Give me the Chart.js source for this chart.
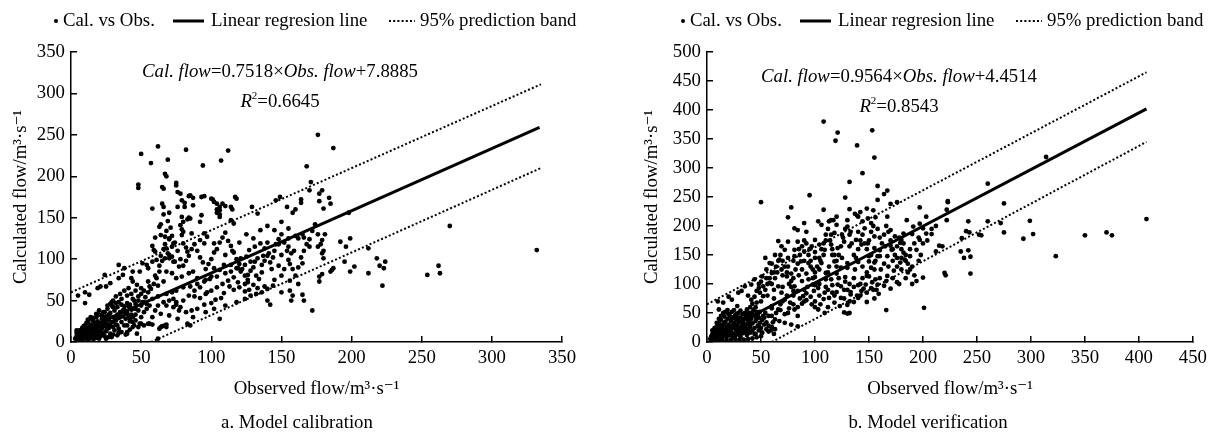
<!DOCTYPE html>
<html>
<head>
<meta charset="utf-8">
<script src="https://cdn.jsdelivr.net/npm/chart.js@4"></script>
<style>
  body { margin: 0; background: #fff; }
  .wrap { display: flex; width: 1218px; height: 436px; }
  canvas { display: block; }
</style>
</head>
<body>
<div class="wrap">
  <canvas id="grafico_a" width="609" height="436"></canvas>
  <canvas id="grafico_b" width="609" height="436"></canvas>
</div>
<script>
// ticks
const calibXTicks = [0, 50, 100, 150, 200, 250, 300, 350]
const calibYTicks = [0, 50, 100, 150, 200, 250, 300, 350]
const verifXTicks = [0, 50, 100, 150, 200, 250, 300, 350, 400, 450]
const verifYTicks = [0, 50, 100, 150, 200, 250, 300, 350, 400, 450, 500]

// a. calibration: [observed, calculated]
const calibPoints = [
  [3,4],[4,7],[4,11],[5,3],[5,9],[6,5],[6,14],[7,8],[7,3],[8,11],[8,6],[8,17],[9,9],[9,4],[10,13],[10,7],[10,20],[11,10],[11,5],[12,15],
  [12,8],[12,24],[13,12],[13,18],[14,6],[14,21],[15,10],[15,14],[15,27],[16,17],[16,8],[17,22],[17,12],[18,30],[18,16],[19,9],[19,25],[20,19],
  [20,13],[20,33],[21,22],[21,7],[22,28],[22,16],[23,11],[23,36],[24,24],[24,19],[25,31],[25,13],[26,40],[26,22],[27,27],[27,17],[28,35],
  [28,10],[29,24],[29,44],[30,30],[30,18],[31,38],[31,14],[32,26],[32,21],[33,33],[33,42],[34,29],[34,16],[35,36],[36,24],[36,45],[37,31],
  [38,20],[38,39],[39,28],[40,35],[40,12],[41,43],[42,25],[43,33],[44,40],[44,18],[45,20],[46,33],[47,10],[39,9],[50,22],[55,22],[58,21],
  [62,4],[63,16],[65,19],[68,21],[85,20],[6,10],[9,15],[11,17],[13,4],[14,14],[16,25],[17,18],[18,11],[19,21],[21,15],[22,10],[23,20],
  [24,29],[26,16],[27,33],[28,20],[30,24],[31,29],[33,20],[35,30],[37,38],[39,34],[41,30],[43,39],[24,7],[27,6],[30,9],[34,11],[18,5],[15,6],
  [4,14],[5,6],[7,13],[9,19],[11,23],[12,27],[14,30],[16,29],[18,34],[20,38],[22,32],[24,36],[26,44],[28,46],[30,42],[32,47],[34,48],
  [36,36],[38,43],[40,47],[42,45],[44,30],[46,26],[48,38],[50,44],[52,48],[36,12],[40,20],[42,15],[8,2],[12,2],[16,3],[20,4],[25,4],[29,6],[33,8],
  [5,56],[10,60],[13,57],[10,47],[19,65],[21,67],[25,67],[28,71],[24,81],[34,77],[34,93],[29,48],[38,89],[37,81],[44,85],[43,77],[44,73],
  [47,69],[50,65],[54,93],[55,73],[56,67],[61,99],[61,77],[63,85],[66,73],[55,89],[51,95],[49,85],[60,109],[58,97],[68,113],[69,107],[67,101],
  [70,101],[73,97],[77,91],[68,85],[72,83],[75,77],[79,79],[84,83],[87,85],[90,77],[96,75],[100,79],[102,89],[106,87],[109,93],[114,93],
  [118,89],[121,101],[125,103],[127,111],[131,115],[135,119],[138,113],[131,97],[136,93],[121,85],[126,81],[70,125],[73,119],[86,131],
  [92,123],[95,119],[102,119],[95,131],[97,127],[80,133],[79,129],[64,129],[63,139],[85,149],[79,151],[80,145],[78,141],[93,153],[92,145],
  [114,147],[116,143],[106,159],[106,154],[106,151],[58,161],[66,163],[66,154],[81,168],[87,165],[102,169],[106,163],[110,164],[114,163],
  [118,173],[84,176],[95,176],[78,179],[75,189],[66,185],[68,200],[48,186],[65,167],[76,163],[81,163],[84,150],[83,148],[79,136],[64,142],
  [60,126],[58,116],[59,111],[67,127],[70,124],[72,115],[70,105],[72,103],[74,97],[80,119],[82,114],[83,109],
  [50,227],[57,216],[62,236],[69,220],[67,203],[65,187],[82,232],[75,192],[76,181],[79,171],[85,177],[93,175],[94,213],[107,219],[112,231],
  [101,172],[117,175],[48,190],[87,174],[100,173],[104,167],[108,167],[104,160],[104,156],
  [42,42],[51,48],[58,52],[68,58],[75,62],[85,67],[95,73],[104,79],[114,85],[124,93],[133,101],[141,107],[46,40],[54,46],[62,55],[72,60],
  [80,66],[90,70],[99,76],[110,83],[119,89],[128,97],[137,104],[148,118],[155,125],[160,128],[165,130],
  [30,50],[32,55],[35,58],[36,52],[38,62],[40,56],[41,65],[43,58],[45,50],[46,62],[48,55],[50,58],[52,62],[53,54],[55,60],[57,64],[59,70],
  [60,80],[62,68],[63,92],[64,104],[65,98],[66,112],[67,118],[68,134],[69,146],[70,156],[71,138],[72,128],[74,120],[76,110],[78,100],
  [80,92],[82,98],[84,104],[86,112],[88,118],[90,110],[92,102],[94,96],[96,88],[98,94],[100,100],[102,108],[104,112],[106,120],[108,126],
  [110,132],[112,122],[114,116],[116,108],[118,100],[120,94],[122,88],[124,80],[126,72],[128,86],[130,90],[132,80],[134,76],[136,84],
  [138,98],[140,104],[142,96],[144,102],[146,118],[148,124],[150,130],[152,120],[154,110],[156,94],[158,88],[160,80],[162,90],[164,102],
  [166,110],[168,118],[170,124],[172,134],[174,142],[176,130],[178,118],[180,110],
  [80,50],[84,56],[88,62],[92,66],[96,58],[100,62],[104,66],[108,70],[112,74],[116,78],[120,66],[124,70],[128,56],[132,58],[136,60],[140,64],
  [144,68],[60,38],[64,34],[70,32],[76,28],[82,36],[90,40],[96,36],[102,40],[110,44],[118,48],[124,52],[58,30],[62,44],[66,48],[70,50],
  [50,30],[52,36],[54,40],[56,44],[46,46],[48,50],[44,52],
  [73,52],[75,48],[78,42],[75,45],[73,42],[77,38],[68,44],[68,18],[67,20],[64,18],[56,22],[52,20],[49,22],[44,24],[48,18],[40,10],[42,28],
  [86,38],[87,30],[83,22],[92,53],[95,45],[100,47],[103,51],[109,59],[107,53],[113,67],[116,63],[124,61],[127,63],[130,69],[133,65],[138,67],
  [140,50],[106,28],[88,55],[97,60],[119,72],[126,75],[145,75],[150,80],[143,88],[148,92],[152,88],
  [176,250],[187,234],[168,212],[171,193],[170,183],[177,179],[184,174],[177,170],[180,161],[164,168],[158,156],[198,156],[155,137],
  [162,125],[166,126],[181,130],[179,123],[192,121],[199,125],[196,115],[176,115],[170,115],[159,110],[157,107],[155,99],[179,107],
  [180,101],[165,95],[212,113],[218,101],[224,97],[220,92],[223,89],[195,97],[202,91],[199,85],[212,83],[187,89],[185,85],[186,87],
  [179,82],[177,79],[177,73],[162,70],[156,74],[156,62],[157,50],[166,50],[172,38],[222,68],[254,81],[262,92],[263,83],[270,140],[332,111],
  [179,183],[185,167],[164,172],[160,160],[154,163],[146,171],[149,175],[129,163],[133,155],[115,160],[140,140],[145,135],[150,145],
  [125,130],[130,125],[135,135],[140,120],[145,110],[150,105],[155,115],[120,120],[115,110],[110,105],[150,60],[158,56],[165,57],[142,45]
]
const calibFit = [[5, 12], [334, 259]]
const calibUpper = [[0, 60], [335, 311]]
const calibLower = [[57, 0], [335, 210]]

// b. verification: [observed, calculated]
const verifPoints = [
  [3,5],[4,10],[5,3],[5,14],[6,7],[6,18],[7,11],[7,4],[8,15],[8,22],[9,8],[9,27],[10,12],[10,18],[11,5],[11,32],[12,21],[12,14],[13,9],
  [13,38],[14,25],[14,17],[15,30],[15,11],[16,44],[16,20],[17,14],[17,35],[18,26],[18,8],[19,40],[19,18],[20,30],[20,48],[21,12],[21,23],
  [22,36],[22,19],[23,28],[23,52],[24,15],[24,42],[25,24],[25,33],[26,10],[26,46],[27,20],[27,38],[28,29],[28,14],[29,50],[29,24],[30,35],
  [30,18],[31,42],[31,9],[32,28],[32,22],[33,48],[33,15],[34,32],[34,40],[35,20],[35,26],[36,44],[37,12],[37,30],[38,36],[38,22],[39,50],
  [40,26],[40,16],[41,40],[42,32],[42,20],[43,46],[44,24],[45,36],[45,14],[46,52],[47,28],[48,20],[48,42],[49,33],[50,24],[51,16],[52,45],
  [53,30],[55,22],[57,18],[60,26],[62,14],[6,12],[8,5],[10,25],[12,30],[14,8],[16,33],[18,13],[20,24],[22,42],[24,9],[26,30],[28,40],
  [30,12],[32,36],[34,24],[36,16],[38,46],[40,32],[42,50],[44,14],[46,40],[48,28],
  [4,6],[5,20],[7,24],[9,33],[11,40],[13,45],[15,50],[17,52],[19,55],[21,46],[23,40],[25,55],[27,48],[29,42],[31,54],[33,35],[35,50],
  [37,56],[39,42],[41,50],[43,55],[45,44],[47,48],[49,52],[51,38],[53,42],[55,34],[57,28],[59,20],[61,34],[63,22],[50,10],[46,8],[42,6],
  [38,5],[34,4],[30,4],[26,5],[22,4],[18,3],[14,3],
  [11,56],[15,68],[23,73],[28,62],[29,85],[35,96],[41,99],[44,108],[48,93],[51,113],[41,73],[46,68],[49,85],[52,79],[10,70],[20,78],[32,88],[38,80],
  [55,125],[60,119],[63,110],[58,102],[69,125],[74,113],[78,105],[81,96],[84,88],[89,79],[66,96],[69,85],[72,73],[77,68],[94,108],[98,99],
  [103,93],[109,85],[113,76],[118,68],[123,62],[90,70],[97,65],[103,56],[109,50],[81,56],[84,45],[75,50],[104,125],[110,119],[115,108],
  [121,99],[127,90],[133,82],[54,50],[57,45],[63,39],[67,36],[72,33],[78,30],[84,27],[60,62],[66,56],[51,16],[132,50],
  [54,145],[63,150],[58,136],[67,142],[75,145],[81,148],[87,139],[94,136],[100,145],[106,136],[113,130],[118,139],[124,128],[130,136],
  [137,125],[144,130],[150,139],[155,125],[150,113],[156,108],[147,99],[152,93],[143,88],[140,76],[132,70],[130,49],[158,99],[157,90],
  [69,165],[72,159],[75,173],[84,173],[81,159],[90,156],[100,176],[97,165],[104,168],[109,159],[115,168],[121,162],[127,173],[132,165],
  [138,176],[143,168],[149,170],[155,162],[152,150],[158,148],
  [66,174],[81,196],[84,193],[90,205],[92,190],[103,208],[106,202],[113,208],[117,210],[120,202],[118,188],[130,199],[133,190],[140,216],
  [144,208],[149,213],[152,205],[146,196],[140,190],[155,182],
  [50,241],[95,253],[78,232],[75,215],[108,228],[132,276],[144,291],[128,249],[132,229],[137,221],[158,269],
  [108,380],[121,361],[119,347],[153,365],[139,339],[155,318],[167,261],[164,255],[158,245],[115,210],[120,216],[142,224],[139,218],
  [148,230],[154,227],[170,238],[176,241],[167,216],[197,232],[203,216],[223,243],[222,228],[208,186],[218,165],[200,111],[220,119],
  [201,59],[166,55],
  [170,193],[174,182],[182,187],[179,171],[185,210],[191,199],[197,204],[165,165],[171,159],[167,148],[176,145],[182,154],[188,148],
  [194,159],[197,176],[203,187],[155,137],[161,125],[167,114],[173,123],[180,125],[186,120],[148,114],[153,103],[145,92],[139,80],
  [164,97],[170,92],[176,103],[159,83],[155,75],[148,69],[133,86],[127,75],[130,64],[127,51],[179,137],[183,142],[136,69],[142,80],
  [323,148],[350,184],[370,189],[375,184],[407,212],[293,178],[302,186],[299,209],[275,189],[242,158],[244,147],[244,118],[221,115],
  [243,189],[254,184],[314,319],[260,273],[223,241],[275,239],[222,210],[242,208],[260,208],[272,205],[240,191],[252,185],[236,179],
  [215,166],[212,156],[235,156],[238,145],
  [85,115],[88,125],[92,118],[96,130],[100,112],[105,140],[108,150],[112,120],[116,150],[120,130],[125,145],[128,112],[90,140],[95,160],
  [100,155],[110,175],[115,185],[125,185],[85,160],[80,140],[75,130],[70,115],[65,120],[60,135],[55,110],[62,90],[70,95],[78,118],[88,105],
  [93,95],[99,88],[104,100],[110,95],[116,85],[122,110],[45,60],[50,70],[56,80],[62,75],[68,65],[74,80],[80,88],[86,75],[92,84],[98,110],
  [60,58],[70,70],[80,80],[90,90],[100,98],[110,108],[120,118],[130,128],[140,138],[150,148],[160,158],[170,166],[180,176],[190,186],[200,196],
  [40,60],[42,66],[44,78],[46,88],[48,100],[50,104],[52,96],[54,90],[56,100],[58,110],[60,100],[62,120],[64,130],[66,140],[68,150],[70,140],
  [72,130],[74,120],[76,100],[78,95],[80,110],[82,125],[84,135],[86,150],[88,165],[90,175],[92,170],[94,150],[96,140],[98,125],[100,120],
  [102,130],[104,145],[106,160],[108,170],[110,185],[112,195],[114,175],[116,160],[118,150],[120,140],[122,150],[124,165],[126,180],
  [128,195],[130,210],[132,185],[134,170],[136,150],[138,145],[140,160],[142,175],[144,185],[146,170],[148,160],[150,175],[152,190],
  [154,200],[156,215],[158,195],[160,180],[162,170],[164,185],[166,200],[168,190],[170,175],[172,160],[174,150],[176,165],[178,180],
  [180,160],[182,170],[184,140],[186,135],[188,125],[190,130],[192,115],[194,105],[196,140],[198,150],
  [60,45],[64,50],[68,55],[72,48],[76,58],[80,65],[84,60],[88,66],[92,72],[96,78],[100,70],[104,80],[108,74],[112,90],[116,98],[120,86],
  [124,96],[128,104],[132,100],[136,110],[140,98],[144,110],[148,120],[152,128],[156,140],[160,148],[164,135],[168,130],[172,140],
  [176,130],[180,145],[184,150],[188,160],[192,170],[196,180],[200,170],[204,175],[208,195],[212,200],[100,60],[105,65],[112,60],[118,80],
  [124,76],[130,90],[136,95],[142,100],[148,85],[154,90],[160,110],[166,105],[172,110],[178,100],[184,110],[190,100]
]
const verifFit = [[5, 9], [407, 402]]
const verifUpper = [[0, 65], [407, 465]]
const verifLower = [[60, 0], [407, 345]]

const serif = "'Liberation Serif', 'Times New Roman', 'DejaVu Serif', serif"
const fs = 18.8

function pts(list) {
  return list.map(p => ({ x: p[0], y: p[1] }))
}

function drawRuns(ctx, runs, cx, y) {
  let total = 0
  runs.forEach(r => {
    ctx.font = (r.i ? 'italic ' : '') + (r.sup ? 11 : fs) + 'px ' + serif
    r.w = ctx.measureText(r.t).width
    total += r.w
  })
  let x = cx - total / 2
  runs.forEach(r => {
    ctx.font = (r.i ? 'italic ' : '') + (r.sup ? 11 : fs) + 'px ' + serif
    ctx.fillText(r.t, x, r.sup ? y - 6 : y)
    x += r.w
  })
}

// legend, equations and caption
const figText = {
  id: 'figText',
  afterDraw(chart, args, opts) {
    const ctx = chart.ctx
    ctx.save()
    ctx.fillStyle = '#000'
    ctx.strokeStyle = '#000'
    ctx.textBaseline = 'middle'
    ctx.textAlign = 'left'
    const x0 = opts.legendX
    const ly = 21
    ctx.beginPath()
    ctx.arc(x0, ly, 2, 0, Math.PI * 2)
    ctx.fill()
    ctx.font = fs + 'px ' + serif
    ctx.fillText('Cal. vs Obs.', x0 + 7, ly)
    ctx.lineWidth = 3
    ctx.beginPath()
    ctx.moveTo(x0 + 117, ly)
    ctx.lineTo(x0 + 148, ly)
    ctx.stroke()
    ctx.fillText('Linear regresion line', x0 + 155, ly)
    ctx.lineWidth = 2
    ctx.setLineDash([2, 2.2])
    ctx.beginPath()
    ctx.moveTo(x0 + 333, ly)
    ctx.lineTo(x0 + 359, ly)
    ctx.stroke()
    ctx.setLineDash([])
    ctx.fillText('95% prediction band', x0 + 364, ly)

    drawRuns(ctx, [{ t: 'Cal. flow', i: true }, { t: opts.eqMid }, { t: 'Obs. flow', i: true }, { t: opts.eqEnd }], opts.eqX, opts.eqY)
    drawRuns(ctx, [{ t: 'R', i: true }, { t: '2', sup: true }, { t: opts.r2 }], opts.eqX, opts.eqY + 30)

    ctx.textAlign = 'center'
    ctx.font = fs + 'px ' + serif
    ctx.fillText(opts.caption, opts.capX, 423)
    ctx.restore()
  }
}

function axis(ticksList, max, title, size, titlePad, isX) {
  return {
    type: 'linear',
    min: 0,
    max: max,
    afterBuildTicks: s => { s.ticks = ticksList.map(v => ({ value: v })) },
    afterFit: s => { if (isX) s.height = size; else s.width = size },
    border: { color: '#000', width: 1.5 },
    grid: { drawOnChartArea: false, color: '#000', lineWidth: 1.5, tickLength: -6 },
    ticks: { color: '#000', font: { family: serif, size: fs }, padding: isX ? 11 : 12, autoSkip: false, maxRotation: 0 },
    title: { display: true, text: title, color: '#000', font: { family: serif, size: fs }, padding: titlePad }
  }
}

function makeChart(id, d) {
  return new Chart(document.getElementById(id), {
    type: 'scatter',
    data: {
      datasets: [
        { label: 'Cal. vs Obs.', data: pts(d.points), pointRadius: 2.4, pointHoverRadius: 2.4, pointBackgroundColor: '#000', pointBorderWidth: 0, order: 3 },
        { label: 'Linear regresion line', data: pts(d.fit), showLine: true, borderColor: '#000', borderWidth: 3, pointRadius: 0, order: 1 },
        { label: '95% prediction band', data: pts(d.upper), showLine: true, borderColor: '#000', borderWidth: 2, borderDash: [2, 2.2], pointRadius: 0, order: 2 },
        { label: '95% prediction band', data: pts(d.lower), showLine: true, borderColor: '#000', borderWidth: 2, borderDash: [2, 2.2], pointRadius: 0, order: 2 }
      ]
    },
    options: {
      responsive: false,
      animation: false,
      layout: { padding: { top: 52, left: 0, right: d.padRight, bottom: 36 } },
      scales: {
        x: axis(d.xTicks, d.xMax, 'Observed flow/m³·s⁻¹', 58, { top: 0, bottom: 0 }, true),
        y: axis(d.yTicks, d.yMax, 'Calculated flow/m³·s⁻¹', d.yWidth, { top: d.yTitlePad, bottom: 0 }, false)
      },
      plugins: {
        legend: { display: false },
        tooltip: { enabled: false },
        figText: d.text
      }
    },
    plugins: [figText]
  })
}

makeChart('grafico_a', {
  points: calibPoints, fit: calibFit, upper: calibUpper, lower: calibLower,
  xTicks: calibXTicks, yTicks: calibYTicks, xMax: 350, yMax: 350,
  padRight: 47, yWidth: 71, yTitlePad: 9.7,
  text: { legendX: 56, eqX: 280, eqY: 72, eqMid: '=0.7518×', eqEnd: '+7.8885', r2: '=0.6645', caption: 'a. Model calibration', capX: 297 }
})

makeChart('grafico_b', {
  points: verifPoints, fit: verifFit, upper: verifUpper, lower: verifLower,
  xTicks: verifXTicks, yTicks: verifYTicks, xMax: 450, yMax: 500,
  padRight: 20, yWidth: 98, yTitlePad: 31.7,
  text: { legendX: 74, eqX: 290, eqY: 77, eqMid: '=0.9564×', eqEnd: '+4.4514', r2: '=0.8543', caption: 'b. Model verification', capX: 319 }
})
</script>
</body>
</html>
